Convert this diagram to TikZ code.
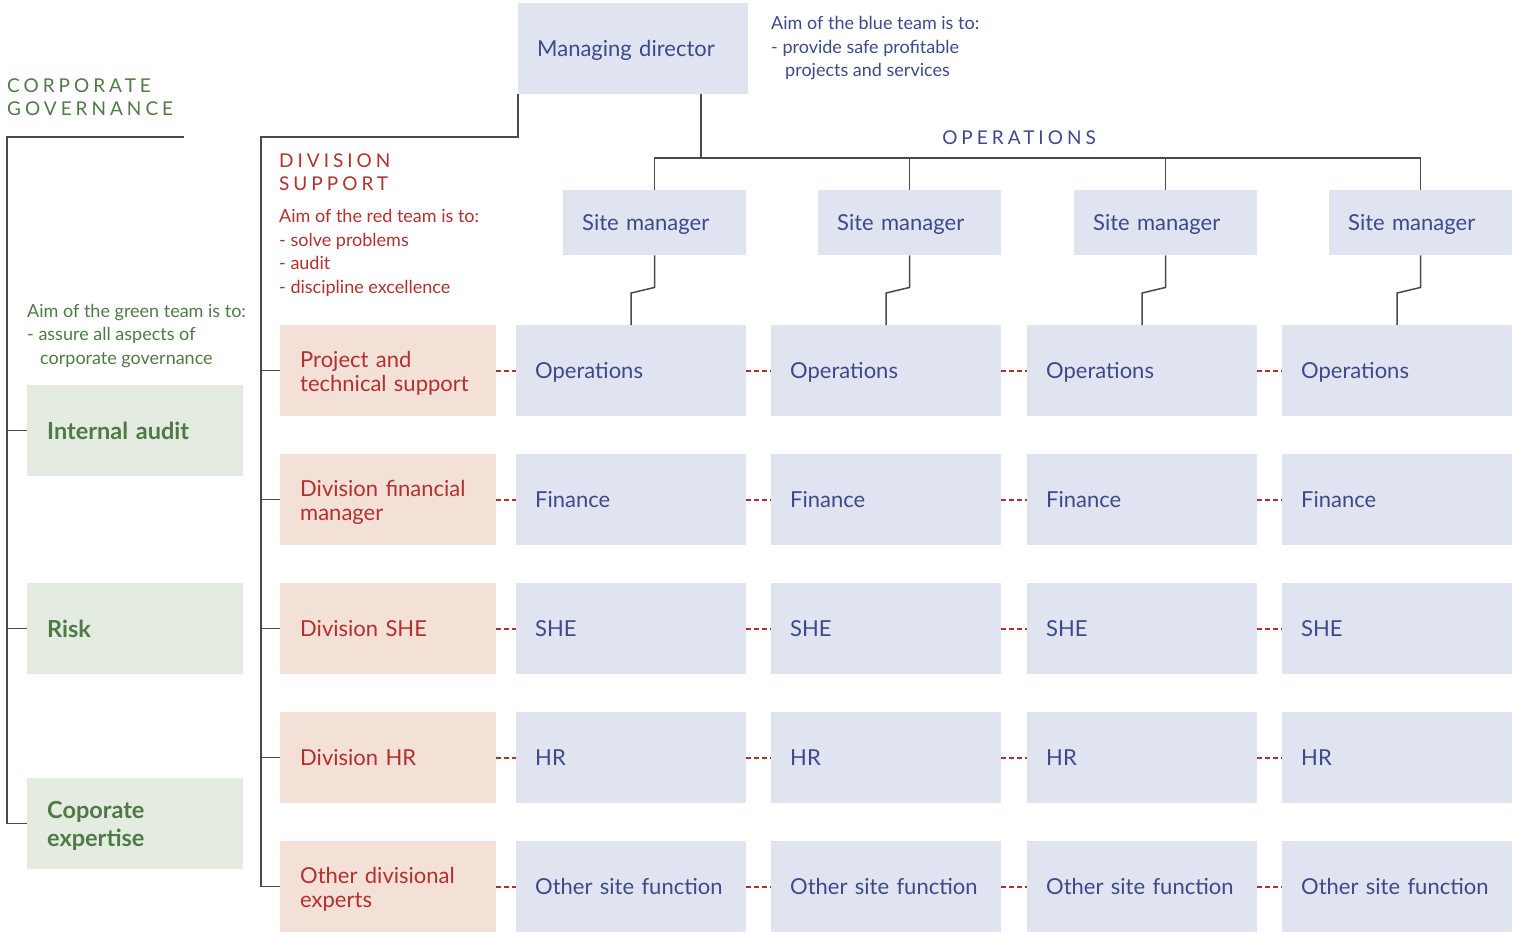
\documentclass[tikz,border=0pt]{standalone}
\usepackage{fontspec}
\setmainfont{Lato}
\newfontfamily\capsfont[LetterSpace=21]{Lato}
\usetikzlibrary{calc}
\definecolor{bfill}{HTML}{E0E3F0}
\definecolor{btext}{HTML}{3C4A8C}
\definecolor{rfill}{HTML}{F3E0D7}
\definecolor{rtext}{HTML}{B3302F}
\definecolor{gfill}{HTML}{E4EBE0}
\definecolor{gtext}{HTML}{4E7B45}
\definecolor{lgray}{HTML}{4A4A4A}
\begin{document}
\begin{tikzpicture}[x=1pt,y=-1pt,
  boxbase/.style={anchor=north west, inner xsep=19pt, inner ysep=0pt, align=left, text depth=0pt,
    font=\fontsize{22}{24}\selectfont},
  bluebox/.style={boxbase, fill=bfill, text=btext},
  redbox/.style={boxbase, fill=rfill, text=rtext, inner xsep=20pt, text width=176pt, minimum height=91pt},
  greenbox/.style={boxbase, fill=gfill, text=gtext, inner xsep=20pt, text width=176pt, minimum height=91pt,
    font=\fontsize{23.5}{28}\selectfont\bfseries},
  twored/.style={redbox, text depth=22pt},
  twogreen/.style={greenbox, text depth=27pt},
  opbox/.style={bluebox, text width=192pt, minimum height=91pt},
  smbox/.style={bluebox, text width=145pt, minimum height=65pt},
  aim/.style={align=left, inner sep=0pt, anchor=base west, font=\fontsize{18}{23.5}\selectfont},
  captitle/.style={align=left, inner sep=0pt, anchor=base west, font=\fontsize{19}{23}\capsfont},
  conn/.style={draw=lgray, line width=1.5pt},
  reddash/.style={draw=rtext, line width=1.6pt, dash pattern=on 4.5pt off 3.5pt},
]
\useasboundingbox (0,0) rectangle (1514,933);

% top
\node[bluebox, text width=192pt, minimum height=91pt] (md) at (518,3) {Managing director};
\node[aim, text=btext] (blueaim) at (771,77) {Aim of the blue team is to:\\- provide safe profitable\\\hspace*{14pt}projects and services};
\node[captitle, text=btext, anchor=base] (opstitle) at (1019,145) {OPERATIONS};

% site managers
\foreach \c/\x in {1/563,2/818,3/1074,4/1329}{
  \node[smbox] (sm\c) at (\x,190) {Site manager};
}

% grid of site functions
\foreach \r/\y/\lab in {1/325/Operations,2/454/Finance,3/583/SHE,4/712/HR,5/841/Other site function}{
  \foreach \c/\x in {1/516,2/771,3/1027,4/1282}{
    \node[opbox] (o\r\c) at (\x,\y) {\lab};
  }
}

% red division boxes
\node[twored] (rd1) at (280,325) {Project and\\technical support};
\node[twored] (rd2) at (280,454) {Division financial\\manager};
\node[redbox] (rd3) at (280,583) {Division SHE};
\node[redbox] (rd4) at (280,712) {Division HR};
\node[twored] (rd5) at (280,841) {Other divisional\\experts};

\node[captitle, text=rtext] (dstitle) at (279,191) {DIVISION\\SUPPORT};
\node[aim, text=rtext] (redaim) at (279,293) {Aim of the red team is to:\\- solve problems\\- audit\\- discipline excellence};

% green boxes
\node[greenbox] (g1) at (27,385) {Internal audit};
\node[greenbox] (g2) at (27,583) {Risk};
\node[twogreen] (g3) at (27,778) {Coporate\\expertise};

\node[captitle, text=gtext] (cgtitle) at (7,116) {CORPORATE\\GOVERNANCE};
\node[aim, text=gtext] (greenaim) at (27,364) {Aim of the green team is to:\\- assure all aspects of\\\hspace*{13pt}corporate governance};

% operations tree
\coordinate (mdtap) at (701,94);
\coordinate (bus) at (0,158);
\draw[conn] (mdtap) -- (mdtap |- bus);
\draw[conn] (sm1.north) |- (sm4.north |- bus) -- (sm4.north);
\draw[conn] (sm2.north) -- (sm2.north |- bus);
\draw[conn] (sm3.north) -- (sm3.north |- bus);
\foreach \c in {1,2,3,4}{
  \draw[conn] (sm\c.south) -- ++(0,32) -- ($(o1\c.north)+(0,-32)$) -- (o1\c.north);
}

% division support tree
\coordinate (dsc) at (261,137);
\draw[conn] (md.south west) |- (dsc) |- (rd5.west);
\foreach \r in {1,2,3,4}{
  \draw[conn] (rd\r.west -| dsc) -- (rd\r.west);
}

% corporate governance tree
\coordinate (cgr) at (184,137);
\coordinate (cgl) at (7,137);
\draw[conn] (cgr) -- (cgl) |- (g3.west);
\draw[conn] (g1.west -| cgl) -- (g1.west);
\draw[conn] (g2.west -| cgl) -- (g2.west);

% red dashed links
\foreach \r in {1,2,3,4,5}{
  \draw[reddash] (rd\r.east) -- (o\r1.west);
  \draw[reddash] (o\r1.east) -- (o\r2.west);
  \draw[reddash] (o\r2.east) -- (o\r3.west);
  \draw[reddash] (o\r3.east) -- (o\r4.west);
}
\end{tikzpicture}
\end{document}
